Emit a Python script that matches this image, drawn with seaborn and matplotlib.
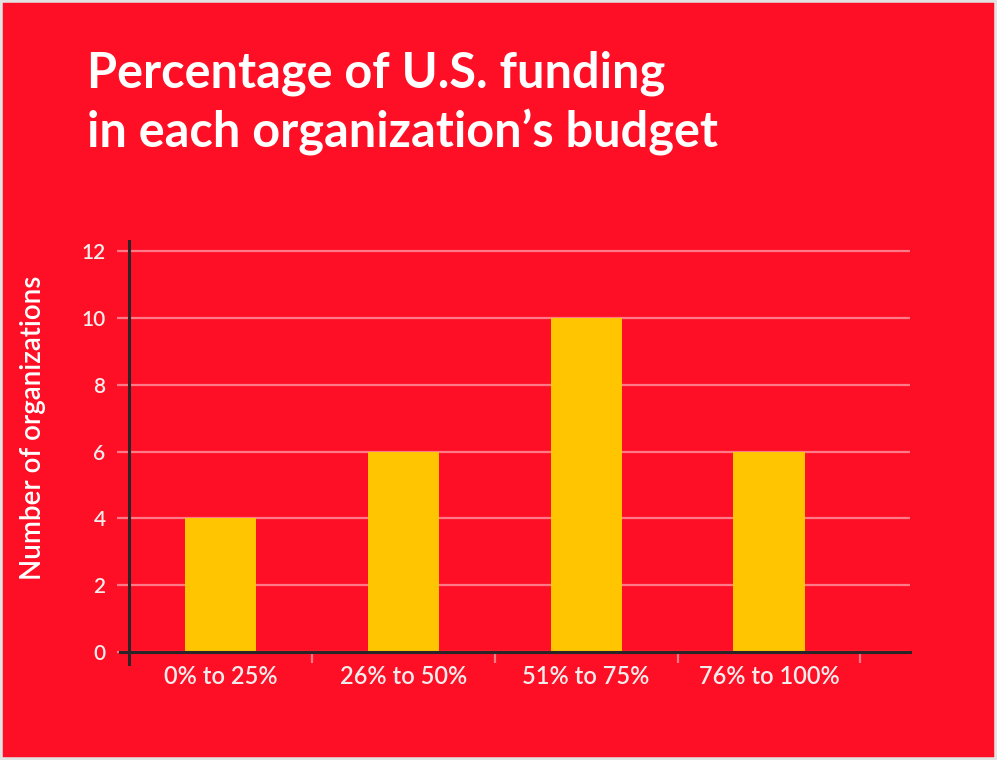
import matplotlib
matplotlib.use("Agg")
import matplotlib.pyplot as plt
import seaborn as sns
import pandas as pd

categories = ["0% to 25%", "26% to 50%", "51% to 75%", "76% to 100%"]
counts = [4, 6, 10, 6]
y_ticks = [0, 2, 4, 6, 8, 10, 12]

BG = "#FF0F25"
BAR = "#FFC500"
GRID = "#FF7A88"
AXIS = "#2B2528"
TEXT = "#F2ECEC"

sns.set_theme(style="white")
plt.rcParams["font.family"] = ["Lato", "DejaVu Sans"]

df = pd.DataFrame({"bucket": categories, "orgs": counts})

fig = plt.figure(figsize=(9.97, 7.6), dpi=100, facecolor=BG)
# thin light frame around the red card
fig.patches.append(plt.Rectangle((0, 0), 1, 1, transform=fig.transFigure,
                                 facecolor="none", edgecolor="#E3E3E3",
                                 linewidth=4, zorder=10))

ax = fig.add_axes([0.1295, 0.142, 0.783, 0.541])
ax.set_facecolor(BG)

sns.barplot(data=df, x="bucket", y="orgs", color=BAR, width=0.39,
            saturation=1, linewidth=0, edgecolor="none", ax=ax, zorder=3)

ax.set_xlim(-0.5, 3.77)
ax.set_ylim(0, 12.3)
ax.set_yticks(y_ticks)
ax.set_yticklabels([str(v) for v in y_ticks], color=TEXT, fontsize=15,
                   fontweight="semibold")
ax.yaxis.grid(True, color=GRID, linewidth=1.6, zorder=1)
ax.tick_params(axis="y", left=True, length=9, width=1.6, color=GRID, pad=8)

# category labels at bar centres, divider ticks between them
ax.set_xticks(range(len(categories)))
ax.set_xticklabels(categories, color=TEXT, fontsize=17, fontweight="semibold")
ax.tick_params(axis="x", which="major", bottom=False, length=0, pad=9)
ax.set_xticks([i + 0.5 for i in range(len(categories))], minor=True)
ax.tick_params(axis="x", which="minor", bottom=True, length=8, width=1.6,
               color=GRID, direction="out", pad=0)

for s in ["top", "right"]:
    ax.spines[s].set_visible(False)
ax.spines["left"].set_color(AXIS)
ax.spines["left"].set_linewidth(2.2)
ax.spines["left"].set_bounds(-0.36, 12.3)
ax.spines["bottom"].set_color(AXIS)
ax.spines["bottom"].set_linewidth(2.2)
ax.spines["bottom"].set_bounds(-0.55, 3.77)
ax.spines["left"].set_zorder(5)
ax.spines["bottom"].set_zorder(5)

ax.set_xlabel("")
ax.set_ylabel("Number of organizations", color="white", fontsize=20,
              fontweight="semibold")
ax.yaxis.set_label_coords(-0.107, 0.545)

fig.text(0.087, 0.903, "Percentage of U.S. funding", color="white",
         fontsize=35, fontweight="bold", va="center", ha="left")
fig.text(0.087, 0.826, "in each organization\u2019s budget", color="white",
         fontsize=35, fontweight="bold", va="center", ha="left")

fig.savefig("out.png", dpi=100, facecolor=fig.get_facecolor())
